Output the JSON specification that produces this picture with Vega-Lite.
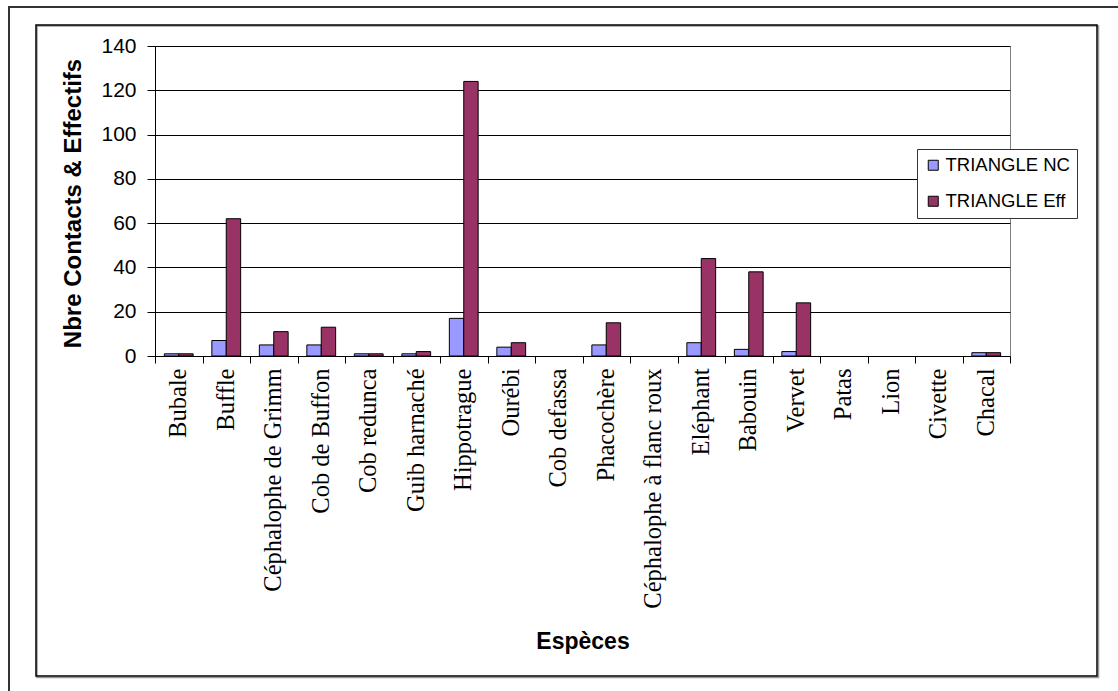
{
  "$schema": "https://vega.github.io/schema/vega-lite/v6.json",
  "width": 855,
  "height": 310,
  "autosize": {"type": "none"},
  "padding": {"left": 155, "top": 46, "right": 108, "bottom": 335},
  "background": "white",
  "config": {"view": {"stroke": "#808080", "strokeWidth": 1}},
  "layer": [
    {
      "description": "outer page frame, left edge",
      "data": {"values": [{}]},
      "mark": {"type": "rule", "stroke": "#333333", "strokeWidth": 2},
      "encoding": {
        "x": {"value": -146},
        "y": {"value": -40},
        "y2": {"value": 660}
      }
    },
    {
      "description": "outer page frame, top edge",
      "data": {"values": [{}]},
      "mark": {"type": "rule", "stroke": "#333333", "strokeWidth": 2},
      "encoding": {
        "x": {"value": -147},
        "x2": {"value": 980},
        "y": {"value": -39}
      }
    },
    {
      "description": "chart area frame shadow",
      "data": {"values": [{}]},
      "mark": {"type": "rect", "filled": false, "stroke": "#999999", "strokeWidth": 1.5},
      "encoding": {
        "x": {"value": -118},
        "x2": {"value": 943.5},
        "y": {"value": -20},
        "y2": {"value": 631.5}
      }
    },
    {
      "description": "chart area frame",
      "data": {"values": [{}]},
      "mark": {"type": "rect", "filled": false, "stroke": "black", "strokeWidth": 1.5},
      "encoding": {
        "x": {"value": -119},
        "x2": {"value": 942},
        "y": {"value": -21},
        "y2": {"value": 630}
      }
    },
    {
      "data": {
        "values": [
          {"espece": "Bubale", "serie": "TRIANGLE NC", "valeur": 1},
          {"espece": "Bubale", "serie": "TRIANGLE Eff", "valeur": 1},
          {"espece": "Buffle", "serie": "TRIANGLE NC", "valeur": 7},
          {"espece": "Buffle", "serie": "TRIANGLE Eff", "valeur": 62},
          {"espece": "Céphalophe de Grimm", "serie": "TRIANGLE NC", "valeur": 5},
          {"espece": "Céphalophe de Grimm", "serie": "TRIANGLE Eff", "valeur": 11},
          {"espece": "Cob de Buffon", "serie": "TRIANGLE NC", "valeur": 5},
          {"espece": "Cob de Buffon", "serie": "TRIANGLE Eff", "valeur": 13},
          {"espece": "Cob redunca", "serie": "TRIANGLE NC", "valeur": 1},
          {"espece": "Cob redunca", "serie": "TRIANGLE Eff", "valeur": 1},
          {"espece": "Guib harnaché", "serie": "TRIANGLE NC", "valeur": 1},
          {"espece": "Guib harnaché", "serie": "TRIANGLE Eff", "valeur": 2},
          {"espece": "Hippotrague", "serie": "TRIANGLE NC", "valeur": 17},
          {"espece": "Hippotrague", "serie": "TRIANGLE Eff", "valeur": 124},
          {"espece": "Ourébi", "serie": "TRIANGLE NC", "valeur": 4},
          {"espece": "Ourébi", "serie": "TRIANGLE Eff", "valeur": 6},
          {"espece": "Cob defassa", "serie": "TRIANGLE NC", "valeur": 0},
          {"espece": "Cob defassa", "serie": "TRIANGLE Eff", "valeur": 0},
          {"espece": "Phacochère", "serie": "TRIANGLE NC", "valeur": 5},
          {"espece": "Phacochère", "serie": "TRIANGLE Eff", "valeur": 15},
          {"espece": "Céphalophe à flanc roux", "serie": "TRIANGLE NC", "valeur": 0},
          {"espece": "Céphalophe à flanc roux", "serie": "TRIANGLE Eff", "valeur": 0},
          {"espece": "Eléphant", "serie": "TRIANGLE NC", "valeur": 6},
          {"espece": "Eléphant", "serie": "TRIANGLE Eff", "valeur": 44},
          {"espece": "Babouin", "serie": "TRIANGLE NC", "valeur": 3},
          {"espece": "Babouin", "serie": "TRIANGLE Eff", "valeur": 38},
          {"espece": "Vervet", "serie": "TRIANGLE NC", "valeur": 2},
          {"espece": "Vervet", "serie": "TRIANGLE Eff", "valeur": 24},
          {"espece": "Patas", "serie": "TRIANGLE NC", "valeur": 0},
          {"espece": "Patas", "serie": "TRIANGLE Eff", "valeur": 0},
          {"espece": "Lion", "serie": "TRIANGLE NC", "valeur": 0},
          {"espece": "Lion", "serie": "TRIANGLE Eff", "valeur": 0},
          {"espece": "Civette", "serie": "TRIANGLE NC", "valeur": 0},
          {"espece": "Civette", "serie": "TRIANGLE Eff", "valeur": 0},
          {"espece": "Chacal", "serie": "TRIANGLE NC", "valeur": 1.5},
          {"espece": "Chacal", "serie": "TRIANGLE Eff", "valeur": 1.5}
        ]
      },
      "transform": [{"filter": "datum.valeur > 0"}],
      "mark": {"type": "bar", "stroke": "black", "strokeWidth": 1},
      "encoding": {
        "x": {
          "field": "espece",
          "type": "nominal",
          "sort": null,
          "scale": {
            "domain": ["Bubale", "Buffle", "Céphalophe de Grimm", "Cob de Buffon", "Cob redunca", "Guib harnaché", "Hippotrague", "Ourébi", "Cob defassa", "Phacochère", "Céphalophe à flanc roux", "Eléphant", "Babouin", "Vervet", "Patas", "Lion", "Civette", "Chacal"],
            "paddingInner": 0,
            "paddingOuter": 0
          },
          "axis": {
            "title": "Espèces",
            "labelAngle": 270,
            "labelAlign": "right",
            "labelBaseline": "middle",
            "labelFont": "Liberation Serif",
            "labelFontSize": 24.5,
            "labelColor": "black",
            "labelPadding": 5,
            "labelLimit": 400,
            "labelOverlap": false,
            "tickBand": "extent",
            "tickSize": 7,
            "tickColor": "black",
            "domainColor": "black",
            "titleFont": "Liberation Sans",
            "titleFontSize": 23,
            "titleFontWeight": "bold",
            "titleColor": "black",
            "titleBaseline": "alphabetic",
            "titleY": 292
          }
        },
        "xOffset": {
          "field": "serie",
          "type": "nominal",
          "scale": {"domain": ["TRIANGLE NC", "TRIANGLE Eff"], "paddingInner": 0, "paddingOuter": 0.65}
        },
        "y": {
          "field": "valeur",
          "type": "quantitative",
          "scale": {"domain": [0, 140], "nice": false},
          "axis": {
            "title": "Nbre Contacts & Effectifs",
            "values": [0, 20, 40, 60, 80, 100, 120, 140],
            "grid": true,
            "gridColor": "black",
            "gridWidth": 1,
            "domainColor": "black",
            "tickColor": "black",
            "tickSize": 8,
            "labelPadding": 11,
            "labelFont": "Liberation Sans",
            "labelFontSize": 21,
            "labelColor": "black",
            "titleFont": "Liberation Sans",
            "titleFontSize": 24,
            "titleFontWeight": "bold",
            "titleColor": "black",
            "titleBaseline": "alphabetic",
            "titleX": -75,
            "titleY": 157
          }
        },
        "color": {
          "field": "serie",
          "type": "nominal",
          "scale": {"domain": ["TRIANGLE NC", "TRIANGLE Eff"], "range": ["#9999FF", "#993366"]},
          "legend": {
            "title": null,
            "orient": "none",
            "legendX": 762,
            "legendY": 103,
            "direction": "vertical",
            "fillColor": "white",
            "strokeColor": "#333333",
            "padding": 7,
            "symbolType": "square",
            "symbolSize": 100,
            "symbolStrokeColor": "black",
            "symbolStrokeWidth": 1,
            "labelFont": "Liberation Sans",
            "labelFontSize": 18.5,
            "labelColor": "black",
            "labelOffset": 3,
            "rowPadding": 17,
            "labelLimit": 300
          }
        }
      }
    }
  ]
}
